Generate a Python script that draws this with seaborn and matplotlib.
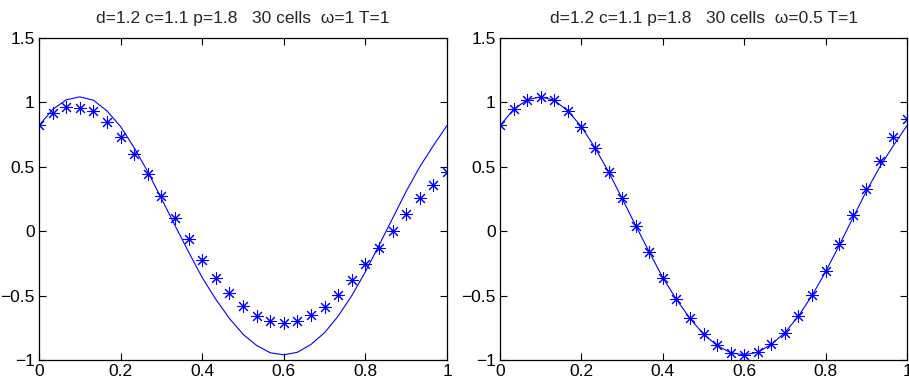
import numpy as np
import pandas as pd
import matplotlib
matplotlib.use("Agg")
import matplotlib.pyplot as plt
import seaborn as sns

n_cells = 30
x_vals = [i / n_cells for i in range(n_cells + 1)]

# exact solution (solid line), same in both panels
exact_vals = [0.82, 0.945, 1.02, 1.043, 1.017, 0.934, 0.812, 0.648, 0.461, 0.254,
              0.044, -0.161, -0.36, -0.529, -0.677, -0.80, -0.887, -0.944, -0.96, -0.94,
              -0.879, -0.788, -0.659, -0.50, -0.315, -0.11, 0.10, 0.31, 0.50, 0.665, 0.82]

# numerical solution, omega = 1
num_w1 = [0.825, 0.92, 0.962, 0.96, 0.93, 0.846, 0.734, 0.597, 0.444, 0.272,
          0.104, -0.062, -0.22, -0.36, -0.482, -0.584, -0.656, -0.70, -0.713, -0.698,
          -0.654, -0.586, -0.493, -0.381, -0.257, -0.13, 0.005, 0.135, 0.254, 0.356, 0.46]

# numerical solution, omega = 0.5
num_w05 = [0.825, 0.947, 1.022, 1.043, 1.017, 0.934, 0.812, 0.648, 0.461, 0.254,
           0.044, -0.161, -0.36, -0.529, -0.677, -0.80, -0.887, -0.944, -0.96, -0.94,
           -0.879, -0.788, -0.659, -0.493, -0.306, -0.096, 0.125, 0.33, 0.547, 0.732, 0.872]

titles = ["d=1.2 c=1.1 p=1.8   30 cells  \u03c9=1 T=1",
          "d=1.2 c=1.1 p=1.8   30 cells  \u03c9=0.5 T=1"]
x_ticks = [0, 0.2, 0.4, 0.6, 0.8, 1]
x_ticklabels = ["0", "0.2", "0.4", "0.6", "0.8", "1"]
y_ticks = [-1, -0.5, 0, 0.5, 1, 1.5]
y_ticklabels = ["\u22121", "\u22120.5", "0", "0.5", "1", "1.5"]

sns.set_style("ticks")
plt.rcParams["font.family"] = ["Liberation Sans", "DejaVu Sans"]
plt.rcParams["xtick.direction"] = "in"
plt.rcParams["ytick.direction"] = "in"

fig = plt.figure(figsize=(9.09, 3.79), dpi=100)
W, H = 909, 379
boxes = [(39, 38, 447, 360), (500, 38, 907, 360)]
numeric = [num_w1, num_w05]
blue = (0, 0, 1)

for k, (l, t, r, b) in enumerate(boxes):
    ax = fig.add_axes([l / W, 1 - b / H, (r - l) / W, (b - t) / H])
    df_line = pd.DataFrame({"x": x_vals, "y": exact_vals})
    df_pts = pd.DataFrame({"x": x_vals, "y": numeric[k]})
    sns.lineplot(data=df_line, x="x", y="y", ax=ax, color=blue, linewidth=0.8,
                 estimator=None, sort=False)
    sns.lineplot(data=df_pts, x="x", y="y", ax=ax, color=blue, linestyle="none",
                 marker=(8, 2, 0), markersize=9, markeredgewidth=0.75,
                 markeredgecolor=blue, markerfacecolor=blue,
                 estimator=None, sort=False)
    ax.set_xlim(0, 1)
    ax.set_ylim(-1, 1.5)
    ax.set_xticks(x_ticks)
    ax.set_xticklabels(x_ticklabels)
    ax.set_yticks(y_ticks)
    ax.set_yticklabels(y_ticklabels)
    ax.set_xlabel("")
    ax.set_ylabel("")
    ax.tick_params(axis="both", which="both", direction="in", length=5, width=0.8,
                   top=True, right=True, labelsize=12.5, pad=3, colors="black")
    for s in ax.spines.values():
        s.set_visible(True)
        s.set_linewidth(0.9)
        s.set_color("black")
    ax.set_title(titles[k], fontsize=12.5, pad=11)

fig.savefig("out.png", dpi=100)
